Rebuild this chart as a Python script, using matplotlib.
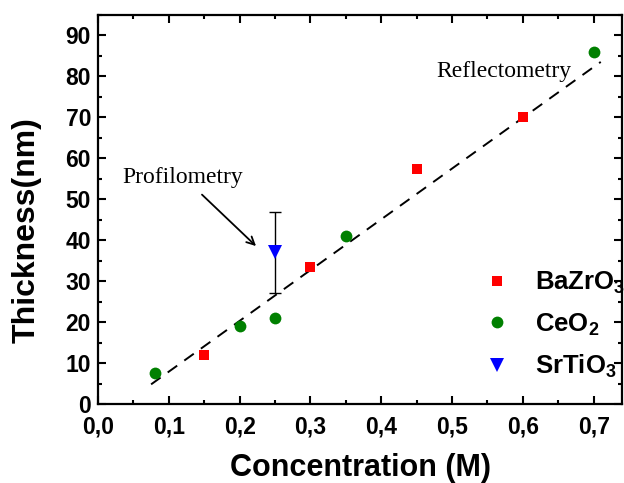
import matplotlib

matplotlib.use("Agg")
import matplotlib.pyplot as plt
import numpy as np
from matplotlib.ticker import FuncFormatter, MultipleLocator

plt.rcParams["font.family"] = ["Liberation Sans", "DejaVu Sans"]
plt.rcParams["font.weight"] = "bold"
plt.rcParams["mathtext.fontset"] = "custom"
plt.rcParams["mathtext.rm"] = "Liberation Sans:bold"
plt.rcParams["mathtext.bf"] = "Liberation Sans:bold"
plt.rcParams["mathtext.default"] = "bf"

# film thickness vs precursor concentration
bazro3_conc = [0.15, 0.30, 0.45, 0.60]
bazro3_thick = [12.0, 33.5, 57.5, 70.0]
ceo2_conc = [0.08, 0.20, 0.25, 0.35, 0.70]
ceo2_thick = [7.5, 19.0, 21.0, 41.0, 86.0]
srtio3_conc = [0.25]
srtio3_thick = [37.0]
srtio3_err = [10.0]

# linear fit (reflectometry)
fit_range = [0.075, 0.71]
fit_slope = 124.0
fit_intercept = -4.5

x_ticks = [0.0, 0.1, 0.2, 0.3, 0.4, 0.5, 0.6, 0.7]
y_ticks = [0, 10, 20, 30, 40, 50, 60, 70, 80, 90]

fig = plt.figure(figsize=(6.24, 4.83), dpi=100)
ax = fig.add_axes([98 / 624, 1 - 404 / 483, 524 / 624, 389 / 483])

fit_x = np.array(fit_range)
ax.plot(fit_x, fit_slope * fit_x + fit_intercept, color="black",
        linestyle=(0, (6, 4.5)), linewidth=1.4, zorder=2)

ax.errorbar(srtio3_conc, srtio3_thick, yerr=srtio3_err, fmt="none",
            ecolor="black", elinewidth=1.0, capsize=4, capthick=1.0, zorder=3)
ax.plot(bazro3_conc, bazro3_thick, "s", color="#ff0000", markersize=7.5,
        markeredgewidth=0, label=r"BaZrO$_3$", zorder=4)
ax.plot(ceo2_conc, ceo2_thick, "o", color="#008000", markersize=8.5,
        markeredgewidth=0, label=r"CeO$_2$", zorder=4)
ax.plot(srtio3_conc, srtio3_thick, "v", color="#0000ff", markersize=10,
        markeredgewidth=0, label=r"SrTiO$_3$", zorder=5)

serif = ["Liberation Serif", "DejaVu Serif"]
ax.text(0.035, 55.3, "Profilometry", family=serif, fontweight="normal",
        fontsize=17, va="center", ha="left")
ax.text(0.478, 81.2, "Reflectometry", family=serif, fontweight="normal",
        fontsize=17, va="center", ha="left")
ax.annotate("", xy=(0.226, 38.1), xytext=(0.144, 51.6),
            arrowprops=dict(arrowstyle="->", color="black", lw=1.3,
                            mutation_scale=14))

ax.set_xlim(0, 0.74)
ax.set_ylim(0, 95)
ax.set_xticks(x_ticks)
ax.set_yticks(y_ticks)
ax.xaxis.set_minor_locator(MultipleLocator(0.05))
ax.yaxis.set_minor_locator(MultipleLocator(5))
ax.xaxis.set_major_formatter(FuncFormatter(lambda v, _: f"{v:.1f}".replace(".", ",")))
ax.tick_params(which="both", direction="in", top=True, right=True, width=1.5,
               labelsize=16.5)
ax.tick_params(axis="x", pad=8)
ax.tick_params(axis="y", pad=5)
ax.tick_params(which="major", length=6)
ax.tick_params(which="minor", length=3)
for spine in ax.spines.values():
    spine.set_linewidth(1.6)

ax.set_xlabel("Concentration (M)", fontsize=22, fontweight="bold")
ax.set_ylabel("Thickness(nm)", fontsize=23, fontweight="bold")
ax.xaxis.set_label_coords(0.5, -0.126)
ax.yaxis.set_label_coords(-0.107, 0.447)

ax.legend(loc="center left", bbox_to_anchor=(0.724, 0.203), frameon=False,
          fontsize=18.5, borderpad=0, borderaxespad=0, handletextpad=0.75,
          labelspacing=0.6, handlelength=1.5)

fig.savefig("out.png", dpi=100)
